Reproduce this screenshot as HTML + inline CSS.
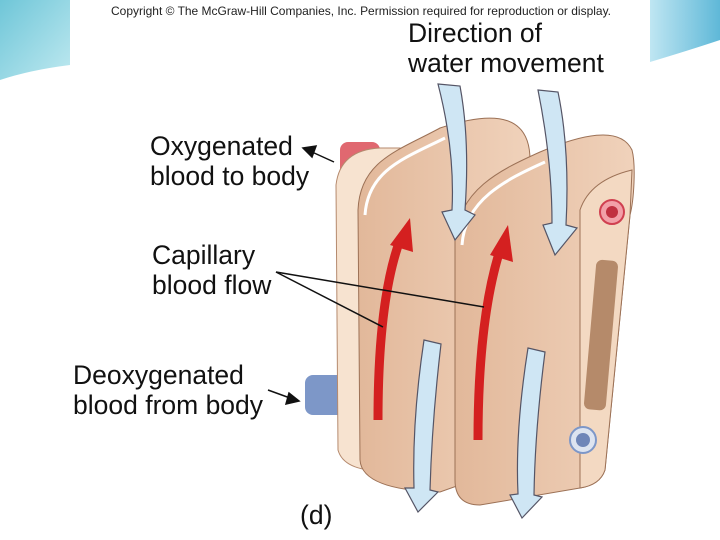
<!DOCTYPE html>
<html><head><meta charset="utf-8"><style>
html,body{margin:0;padding:0;width:720px;height:540px;overflow:hidden;background:#fff;font-family:"Liberation Sans",sans-serif}
</style></head><body>
<svg width="720" height="540" viewBox="0 0 720 540" xmlns="http://www.w3.org/2000/svg">
<defs>
<linearGradient id="bgL" x1="0" y1="0" x2="1" y2="1"><stop offset="0" stop-color="#6fc6d8"/><stop offset="1" stop-color="#bfe9f0"/></linearGradient>
<linearGradient id="bgR" x1="0" y1="0" x2="1" y2="0"><stop offset="0" stop-color="#bfe6f2"/><stop offset="1" stop-color="#5fb8d8"/></linearGradient>
<linearGradient id="tan" x1="0" y1="0" x2="1" y2="0"><stop offset="0" stop-color="#e2b89a"/><stop offset="1" stop-color="#f0d2bb"/></linearGradient>
</defs>
<rect width="720" height="540" fill="#fff"/>
<path d="M0,0 H70 V65 Q30,70 0,80 Z" fill="url(#bgL)"/>
<path d="M650,0 H720 V40 Q690,50 650,62 Z" fill="url(#bgR)"/>
<rect x="70" y="0" width="580" height="540" fill="#fff"/>
<text x="361" y="15" font-size="12" text-anchor="middle" fill="#222" textLength="500" lengthAdjust="spacingAndGlyphs">Copyright © The McGraw-Hill Companies, Inc. Permission required for reproduction or display.</text>
<g font-size="26.5" fill="#111">
<text x="408" y="42">Direction of</text>
<text x="408" y="72">water movement</text>
<text x="150" y="155">Oxygenated</text>
<text x="150" y="185">blood to body</text>
<text x="152" y="264">Capillary</text>
<text x="152" y="294">blood flow</text>
<text x="73" y="384">Deoxygenated</text>
<text x="73" y="414">blood from body</text>
<text x="300" y="524">(d)</text>
</g>
<rect x="340" y="142" width="40" height="40" rx="8" fill="#e06870"/>
<rect x="305" y="375" width="40" height="40" rx="8" fill="#7d97c8"/>
<rect x="430" y="170" width="180" height="40" fill="#e89090"/>
<rect x="420" y="395" width="160" height="40" fill="#9aa8c8"/>
<path d="M336,185 Q340,150 380,148 L400,148 L400,470 Q345,475 338,450 Z" fill="#f7e3d0" stroke="#b58a6e"/>
<path d="M358,210 C360,160 400,150 440,128 C500,108 530,118 530,160 L530,460 L440,492 Q362,490 360,460 Z" fill="url(#tan)" stroke="#9c7156"/>
<path d="M365,215 C368,170 405,158 445,138" fill="none" stroke="#fff" stroke-width="3"/>
<path d="M455,240 C458,190 500,170 540,152 C580,135 620,125 632,150 C636,165 634,200 630,215 L605,470 Q600,485 580,488 L480,505 Q455,505 455,480 Z" fill="url(#tan)" stroke="#9c7156"/>
<path d="M462,245 C465,200 505,180 545,162" fill="none" stroke="#fff" stroke-width="3"/>
<path d="M580,210 Q590,180 632,170 L630,215 L605,470 Q600,485 580,488 Z" fill="#f3d9c2" stroke="#9c7156"/>
<rect x="590" y="260" width="22" height="150" rx="6" fill="#b58a6a" transform="rotate(5 600 335)"/>
<circle cx="612" cy="212" r="12" fill="#f2a0a8" stroke="#d04050" stroke-width="2"/><circle cx="612" cy="212" r="6" fill="#c03040"/>
<circle cx="583" cy="440" r="13" fill="#dde4f0" stroke="#7d97c8" stroke-width="2"/><circle cx="583" cy="440" r="7" fill="#6f86b8"/>
<path d="M378,420 Q378,300 400,240" fill="none" stroke="#d42020" stroke-width="9"/>
<polygon points="390,245 410,218 413,252" fill="#d42020"/>
<path d="M478,440 Q478,320 500,250" fill="none" stroke="#d42020" stroke-width="9"/>
<polygon points="490,255 508,225 513,262" fill="#d42020"/>
<g fill="#cfe6f4" stroke="#556" stroke-width="1.2">
<path d="M438,84 L460,86 Q470,140 465,210 L475,215 L455,240 L442,212 L452,210 Q455,150 438,84 Z"/>
<path d="M538,90 L558,92 Q570,150 566,225 L577,228 L555,255 L543,225 L552,223 Q552,160 538,90 Z"/>
<path d="M424,340 L441,344 Q432,420 430,490 L438,492 L418,512 L405,488 L414,488 Q412,420 424,340 Z"/>
<path d="M528,348 L545,352 Q535,430 534,495 L542,497 L522,518 L510,495 L518,494 Q515,430 528,348 Z"/>
</g>
<g stroke="#111" stroke-width="1.5" fill="#111">
<line x1="276" y1="272" x2="383" y2="327"/>
<line x1="276" y1="272" x2="484" y2="307"/>
<line x1="334" y1="162" x2="312" y2="152"/>
<polygon points="303,148 316,146 312,157"/>
<line x1="268" y1="390" x2="290" y2="398"/>
<polygon points="299,401 286,404 289,393"/>
</g>
</svg>
</body></html>
